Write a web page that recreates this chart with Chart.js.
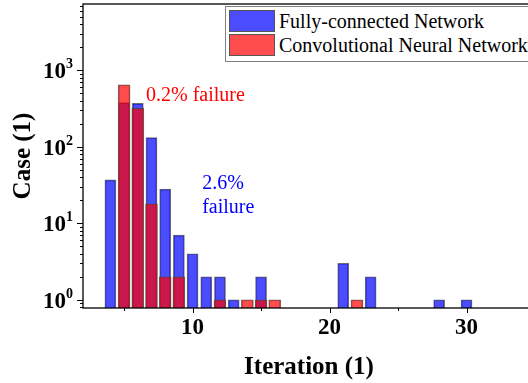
<!DOCTYPE html>
<html>
<head>
<meta charset="utf-8">
<script src="https://cdn.jsdelivr.net/npm/chart.js@4.4.0/dist/chart.umd.min.js"></script>
<style>
  html, body { margin: 0; padding: 0; background: #fff; overflow: hidden; }
  #wrap { position: relative; width: 540px; height: 383px; }
  #legend {
    position: absolute; left: 225px; top: 6px; width: 320px; height: 54px;
    border: 1px solid #808080; background: #fff;
    font-family: 'Liberation Serif', 'Times New Roman', serif; font-size: 20px; color: #000;
  }
  .legend-item { position: absolute; left: 3px; height: 22px; display: flex; align-items: center; white-space: nowrap; }
  .color-box { width: 46px; height: 22px; border: 1px solid #555; box-sizing: border-box; margin-right: 4px; }
</style>
</head>
<body>
<div id="wrap">
  <canvas id="chart"></canvas>
  <div id="legend"></div>
</div>
<script>
const FONT = "'Liberation Serif', 'Times New Roman', serif";

// histogram of iterations needed, per network type
const fcIterations = [4, 5, 6, 7, 8, 9, 10, 11, 12, 13, 15, 21, 23, 28, 30];
const fcCases = [37, 380, 370, 132, 28, 7, 4, 2, 2, 1, 2, 3, 2, 1, 1];
const cnnIterations = [5, 6, 7, 8, 9, 12, 14, 15, 16, 22];
const cnnCases = [650, 320, 18, 2, 2, 1, 1, 1, 1, 1];

const xMajorTicks = [10, 20, 30];
const xMinorTicks = [5, 15, 25];
const yPowers = [0, 1, 2, 3];

const seriesLabels = ['Fully-connected Network', 'Convolutional Neural Network'];
const seriesColors = ['rgba(0, 0, 255, 0.7)', 'rgba(255, 0, 0, 0.7)'];

const toPoints = (xs, ys) => xs.map((v, i) => ({ x: v, y: ys[i] }));

const decorPlugin = {
  id: 'decor',
  afterDraw(chart) {
    const { ctx, chartArea: a, scales: { x, y } } = chart;
    ctx.save();
    ctx.strokeStyle = '#000';

    // plot frame
    ctx.lineWidth = 1.3;
    ctx.strokeRect(a.left, a.top, a.right - a.left, a.bottom - a.top);

    // y ticks (major + minor, outward)
    ctx.lineWidth = 1;
    ctx.beginPath();
    for (let p = -1; p <= 3; p++) {
      for (let m = 1; m <= 9; m++) {
        const v = m * Math.pow(10, p);
        if (v < y.min || v > y.max) continue;
        const py = Math.round(y.getPixelForValue(v)) + 0.5;
        const len = m === 1 ? 6 : 3;
        ctx.moveTo(a.left - len, py);
        ctx.lineTo(a.left, py);
      }
    }
    // x ticks
    xMajorTicks.forEach(v => {
      const px = Math.round(x.getPixelForValue(v)) + 0.5;
      ctx.moveTo(px, a.bottom);
      ctx.lineTo(px, a.bottom + 5);
    });
    xMinorTicks.forEach(v => {
      const px = Math.round(x.getPixelForValue(v)) + 0.5;
      ctx.moveTo(px, a.bottom);
      ctx.lineTo(px, a.bottom + 3);
    });
    ctx.stroke();

    // y tick labels 10^n
    ctx.fillStyle = '#000';
    ctx.textBaseline = 'alphabetic';
    yPowers.forEach(p => {
      const py = y.getPixelForValue(Math.pow(10, p));
      ctx.font = `bold 23px ${FONT}`;
      ctx.textAlign = 'right';
      ctx.fillText('10', 66, py + 8);
      ctx.font = `bold 14px ${FONT}`;
      ctx.textAlign = 'left';
      ctx.fillText(String(p), 66, py - 2);
    });

    // failure annotations
    ctx.font = `20px ${FONT}`;
    ctx.textAlign = 'left';
    ctx.fillStyle = '#FF0000';
    ctx.fillText('0.2% failure', x.getPixelForValue(6.6), y.getPixelForValue(400));
    ctx.fillStyle = '#0000FF';
    ctx.fillText('2.6%', x.getPixelForValue(10.7), y.getPixelForValue(28.5));
    ctx.fillText('failure', x.getPixelForValue(10.7), y.getPixelForValue(13.8));
    ctx.restore();
  }
};

const ctx = document.getElementById('chart').getContext('2d');
new Chart(ctx, {
  type: 'bar',
  data: {
    datasets: [
      // CNN first so it is painted over the FC bars
      {
        label: seriesLabels[1],
        data: toPoints(cnnIterations, cnnCases),
        backgroundColor: seriesColors[1],
        borderColor: 'rgba(70, 70, 70, 0.8)',
        borderWidth: 1,
        barThickness: 12
      },
      {
        label: seriesLabels[0],
        data: toPoints(fcIterations, fcCases),
        backgroundColor: seriesColors[0],
        borderColor: 'rgba(70, 70, 70, 0.8)',
        borderWidth: 1,
        barThickness: 11
      }
    ]
  },
  options: {
    responsive: true,
    maintainAspectRatio: false,
    animation: false,
    grouped: false,
    layout: { padding: { top: 4, right: 5, bottom: 0, left: 0 } },
    plugins: { legend: { display: false }, tooltip: { enabled: false } },
    scales: {
      x: {
        type: 'linear',
        min: 2,
        max: 35,
        offset: false,
        afterBuildTicks: s => { s.ticks = xMajorTicks.map(v => ({ value: v })); },
        afterFit: s => { s.height = 75; },
        grid: { display: false },
        border: { display: false },
        ticks: {
          color: '#000',
          font: { family: FONT, size: 23, weight: 'bold' },
          padding: -2,
          maxRotation: 0,
          autoSkip: false
        },
        title: {
          display: true,
          text: 'Iteration (1)',
          color: '#000',
          font: { family: FONT, size: 25, weight: 'bold' },
          padding: { top: 0, bottom: 0 }
        }
      },
      y: {
        type: 'logarithmic',
        min: 0.78,
        max: 7400,
        afterFit: s => { s.width = 83; },
        grid: { display: false },
        border: { display: false },
        ticks: { display: false },
        title: {
          display: true,
          text: 'Case (1)',
          color: '#000',
          font: { family: FONT, size: 25, weight: 'bold' },
          padding: { top: 9, bottom: 0 }
        }
      }
    }
  },
  plugins: [decorPlugin]
});

// custom legend box
const legend = document.getElementById('legend');
[0, 1].forEach(i => {
  const item = document.createElement('div');
  item.className = 'legend-item';
  item.style.top = (i === 0 ? 3 : 27) + 'px';
  const box = document.createElement('span');
  box.className = 'color-box';
  box.style.backgroundColor = seriesColors[i];
  const text = document.createElement('span');
  text.textContent = seriesLabels[i];
  item.appendChild(box);
  item.appendChild(text);
  legend.appendChild(item);
});
</script>
</body>
</html>
